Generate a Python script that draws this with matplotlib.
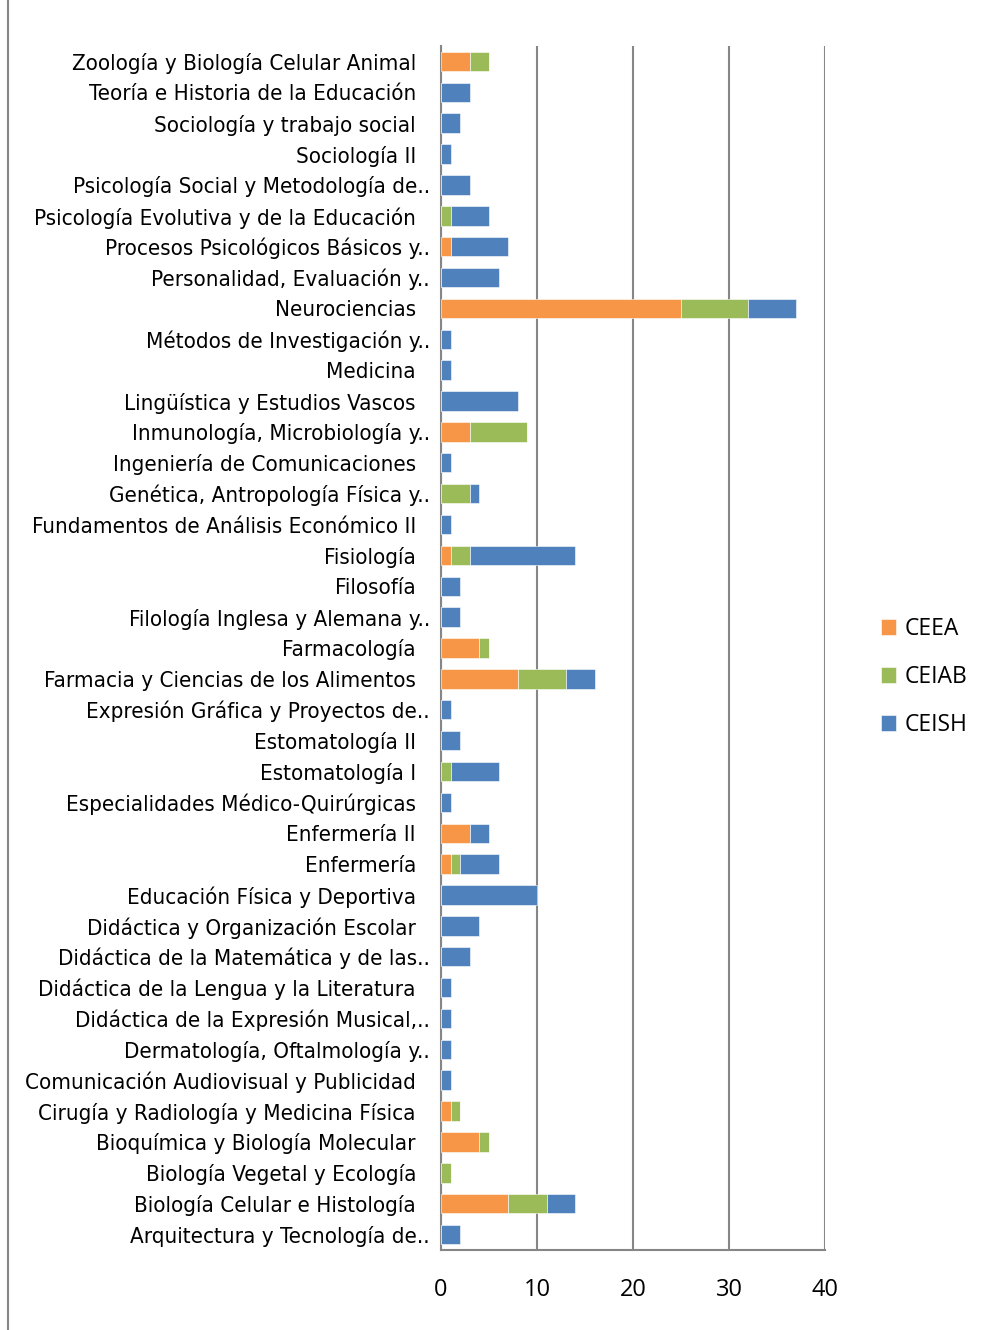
import matplotlib.pyplot as plt
import matplotlib.transforms as mtransforms
import numpy as np

departments = [
    "Zoología y Biología Celular Animal",
    "Teoría e Historia de la Educación",
    "Sociología y trabajo social",
    "Sociología II",
    "Psicología Social y Metodología de..",
    "Psicología Evolutiva y de la Educación",
    "Procesos Psicológicos Básicos y..",
    "Personalidad, Evaluación y..",
    "Neurociencias",
    "Métodos de Investigación y..",
    "Medicina",
    "Lingüística y Estudios Vascos",
    "Inmunología, Microbiología y..",
    "Ingeniería de Comunicaciones",
    "Genética, Antropología Física y..",
    "Fundamentos de Análisis Económico II",
    "Fisiología",
    "Filosofía",
    "Filología Inglesa y Alemana y..",
    "Farmacología",
    "Farmacia y Ciencias de los Alimentos",
    "Expresión Gráfica y Proyectos de..",
    "Estomatología II",
    "Estomatología I",
    "Especialidades Médico-Quirúrgicas",
    "Enfermería II",
    "Enfermería",
    "Educación Física y Deportiva",
    "Didáctica y Organización Escolar",
    "Didáctica de la Matemática y de las..",
    "Didáctica de la Lengua y la Literatura",
    "Didáctica de la Expresión Musical,..",
    "Dermatología, Oftalmología y..",
    "Comunicación Audiovisual y Publicidad",
    "Cirugía y Radiología y Medicina Física",
    "Bioquímica y Biología Molecular",
    "Biología Vegetal y Ecología",
    "Biología Celular e Histología",
    "Arquitectura y Tecnología de..",
]
ceea  = [3, 0, 0, 0, 0, 0, 1, 0, 25, 0, 0, 0, 3, 0, 0, 0, 1, 0, 0, 4, 8, 0, 0, 0, 0, 3, 1, 0, 0, 0, 0, 0, 0, 0, 1, 4, 0, 7, 0]
ceiab = [2, 0, 0, 0, 0, 1, 0, 0, 7, 0, 0, 0, 6, 0, 3, 0, 2, 0, 0, 1, 5, 0, 0, 1, 0, 0, 1, 0, 0, 0, 0, 0, 0, 0, 1, 1, 1, 4, 0]
ceish = [0, 3, 2, 1, 3, 4, 6, 6, 5, 1, 1, 8, 0, 1, 1, 1, 11, 2, 2, 0, 3, 1, 2, 5, 1, 2, 4, 10, 4, 3, 1, 1, 1, 1, 0, 0, 0, 3, 2]
xticks = [0, 10, 20, 30, 40]

fig = plt.figure(figsize=(9.82, 13.30), dpi=100)
ax = fig.add_axes([441/982, 1 - 1250/1330, 384/982, 1204/1330])

y = np.arange(len(departments))
a = np.array(ceea); b = np.array(ceiab); c = np.array(ceish)
h = 0.63
ax.barh(y, a, height=h, color="#F79646", edgecolor="white", linewidth=0.4, label="CEEA", zorder=3)
ax.barh(y, b, left=a, height=h, color="#9BBB59", edgecolor="white", linewidth=0.4, label="CEIAB", zorder=3)
ax.barh(y, c, left=a + b, height=h, color="#4F81BD", edgecolor="white", linewidth=0.4, label="CEISH", zorder=3)

ax.set_ylim(len(departments) - 0.5, -0.5)
ax.set_xlim(0, 40)
ax.set_xticks(xticks)
ax.set_xticklabels([str(t) for t in xticks], fontsize=17, family="Open Sans")
ax.tick_params(axis="x", length=0, pad=20)
ax.set_yticks([])
ax.grid(axis="x", color="#868686", linewidth=1.5, zorder=1)
for s in ["top", "right"]:
    ax.spines[s].set_visible(False)
for s in ["left", "bottom"]:
    ax.spines[s].set_color("#868686")
    ax.spines[s].set_linewidth(1.5)

# category labels, ".." hangs past the normal right edge like in Excel
for i, name in enumerate(departments):
    off = -11 if name.endswith("..") else -25
    tr = mtransforms.offset_copy(ax.get_yaxis_transform(), fig=fig, x=off, y=-2, units="dots")
    ax.text(0, i, name, transform=tr, ha="right", va="center", fontsize=16,
            family="DejaVu Sans", stretch="condensed", color="#000000")

fig.legend(loc="center left", bbox_to_anchor=(860/982, 1 - 677/1330), frameon=False,
           prop={"family": "Open Sans", "size": 16.5}, handlelength=0.65, handleheight=0.65,
           labelspacing=1.05, handletextpad=0.4)

fig.add_artist(plt.Line2D([8/982, 8/982], [0, 1], color="#868686", linewidth=1.5))

fig.savefig("out.png", dpi=100)
